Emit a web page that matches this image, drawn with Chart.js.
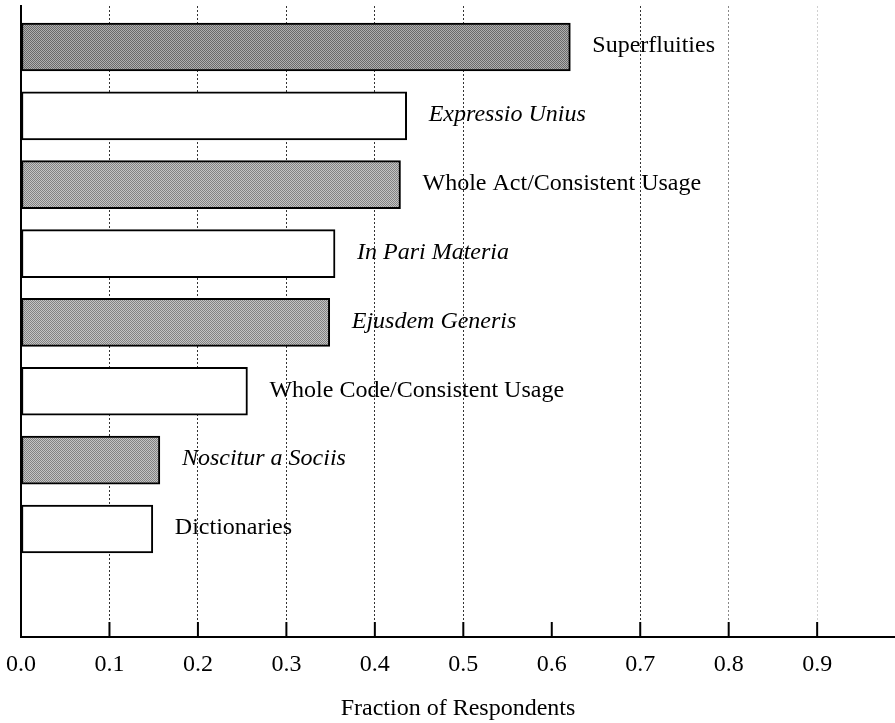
<!DOCTYPE html>
<html>
<head>
<meta charset="utf-8">
<script src="https://cdn.jsdelivr.net/npm/chart.js@4.4.1/dist/chart.umd.min.js"></script>
<style>
    html, body { margin: 0; padding: 0; background: #fff; }
    #wrap { width: 895px; height: 723px; }
</style>
</head>
<body>
<div id="wrap"><canvas id="canonsChart"></canvas></div>
<script>
const canons = ["Superfluities", "Expressio Unius", "Whole Act/Consistent Usage", "In Pari Materia", "Ejusdem Generis", "Whole Code/Consistent Usage", "Noscitur a Sociis", "Dictionaries"];
const fractions = [0.621, 0.436, 0.429, 0.355, 0.349, 0.256, 0.157, 0.149];
const xTicks = [0.0, 0.1, 0.2, 0.3, 0.4, 0.5, 0.6, 0.7, 0.8, 0.9];
const italicCanons = ["Expressio Unius", "In Pari Materia", "Ejusdem Generis", "Noscitur a Sociis"];

const serif = '"Liberation Serif", "Times New Roman", serif';
const canvas = document.getElementById('canonsChart');
const ctx0 = canvas.getContext('2d');

// little dithered fill like the scanned halftone
function dither(dark, light) {
    const c = document.createElement('canvas');
    c.width = 4;
    c.height = 4;
    const g = c.getContext('2d');
    for (let i = 0; i < 4; i++) {
        for (let j = 0; j < 4; j++) {
            g.fillStyle = (i + j) % 2 ? light : dark;
            g.fillRect(i, j, 1, 1);
        }
    }
    return ctx0.createPattern(c, 'repeat');
}
const grayDark = dither('#6a6a6a', '#b0b0b0');
const gray = dither('#828282', '#c4c4c4');

/*----------------------------------------------------------------*/
const barLabels = {
    id: 'barLabels',
    afterDatasetsDraw(chart) {
        const { ctx } = chart;
        const meta = chart.getDatasetMeta(0);
        ctx.save();
        ctx.fillStyle = '#000';
        ctx.textAlign = 'left';
        ctx.textBaseline = 'middle';
        meta.data.forEach((bar, i) => {
            const italic = italicCanons.includes(canons[i]);
            ctx.font = (italic ? 'italic ' : '') + '24px ' + serif;
            ctx.fillText(canons[i], bar.x + 22, bar.y - 1);
        });
        ctx.restore();
    }
};

// tick marks point up into the plot
const innerTicks = {
    id: 'innerTicks',
    afterDraw(chart) {
        const { ctx, chartArea } = chart;
        const xScale = chart.scales.x;
        ctx.save();
        ctx.strokeStyle = '#000';
        ctx.lineWidth = 2;
        xTicks.forEach(v => {
            if (v === 0) return;
            const px = xScale.getPixelForValue(v);
            ctx.beginPath();
            ctx.moveTo(px, chartArea.bottom);
            ctx.lineTo(px, chartArea.bottom - 15);
            ctx.stroke();
        });
        ctx.restore();
    }
};

new Chart(canvas, {
    type: 'bar',
    data: {
        datasets: [
            {
                data: fractions.map((v, i) => ({ x: v, y: i })),
                backgroundColor: canons.map((c, i) => i === 0 ? grayDark : (i % 2 === 0 ? gray : '#ffffff')),
                borderColor: '#000',
                borderWidth: 2,
                borderSkipped: false,
                barThickness: 48
            }
        ]
    },
    options: {
        indexAxis: 'y',
        responsive: true,
        maintainAspectRatio: false,
        animation: false,
        layout: {
            padding: { left: 21, top: 6, right: 0, bottom: 0 }
        },
        plugins: {
            legend: { display: false },
            tooltip: { enabled: false }
        },
        scales: {
            y: {
                type: 'linear',
                reverse: true,
                offset: false,
                min: -0.595,
                max: 8.568,
                grid: { display: false, drawTicks: false },
                ticks: { display: false },
                border: { display: true, color: '#000', width: 2 },
                afterFit: (scale) => { scale.width = 0; }
            },
            x: {
                type: 'linear',
                min: 0,
                max: 0.988,
                afterBuildTicks: (scale) => {
                    scale.ticks = xTicks.map(v => ({ value: v }));
                },
                afterFit: (scale) => {
                    scale.paddingLeft = 0;
                    scale.paddingRight = 0;
                },
                grid: {
                    drawTicks: false,
                    lineWidth: 1,
                    color: (c) => {
                        const v = c.tick ? Math.round(c.tick.value * 10) : -1;
                        if (v === 6) return 'rgba(0,0,0,0)';
                        if (v === 8) return '#888';
                        if (v === 9) return '#d0d0d0';
                        return '#333';
                    }
                },
                border: { display: true, color: '#000', width: 2, dash: [2, 2] },
                ticks: {
                    color: '#000',
                    padding: 13,
                    maxRotation: 0,
                    autoSkip: false,
                    font: { family: serif, size: 24 },
                    callback: (v) => Number(v).toFixed(1)
                },
                title: {
                    display: true,
                    text: 'Fraction of Respondents',
                    color: '#000',
                    font: { family: serif, size: 24 },
                    padding: { top: 2.4, bottom: 0 }
                }
            }
        }
    },
    plugins: [barLabels, innerTicks]
});
</script>
</body>
</html>
